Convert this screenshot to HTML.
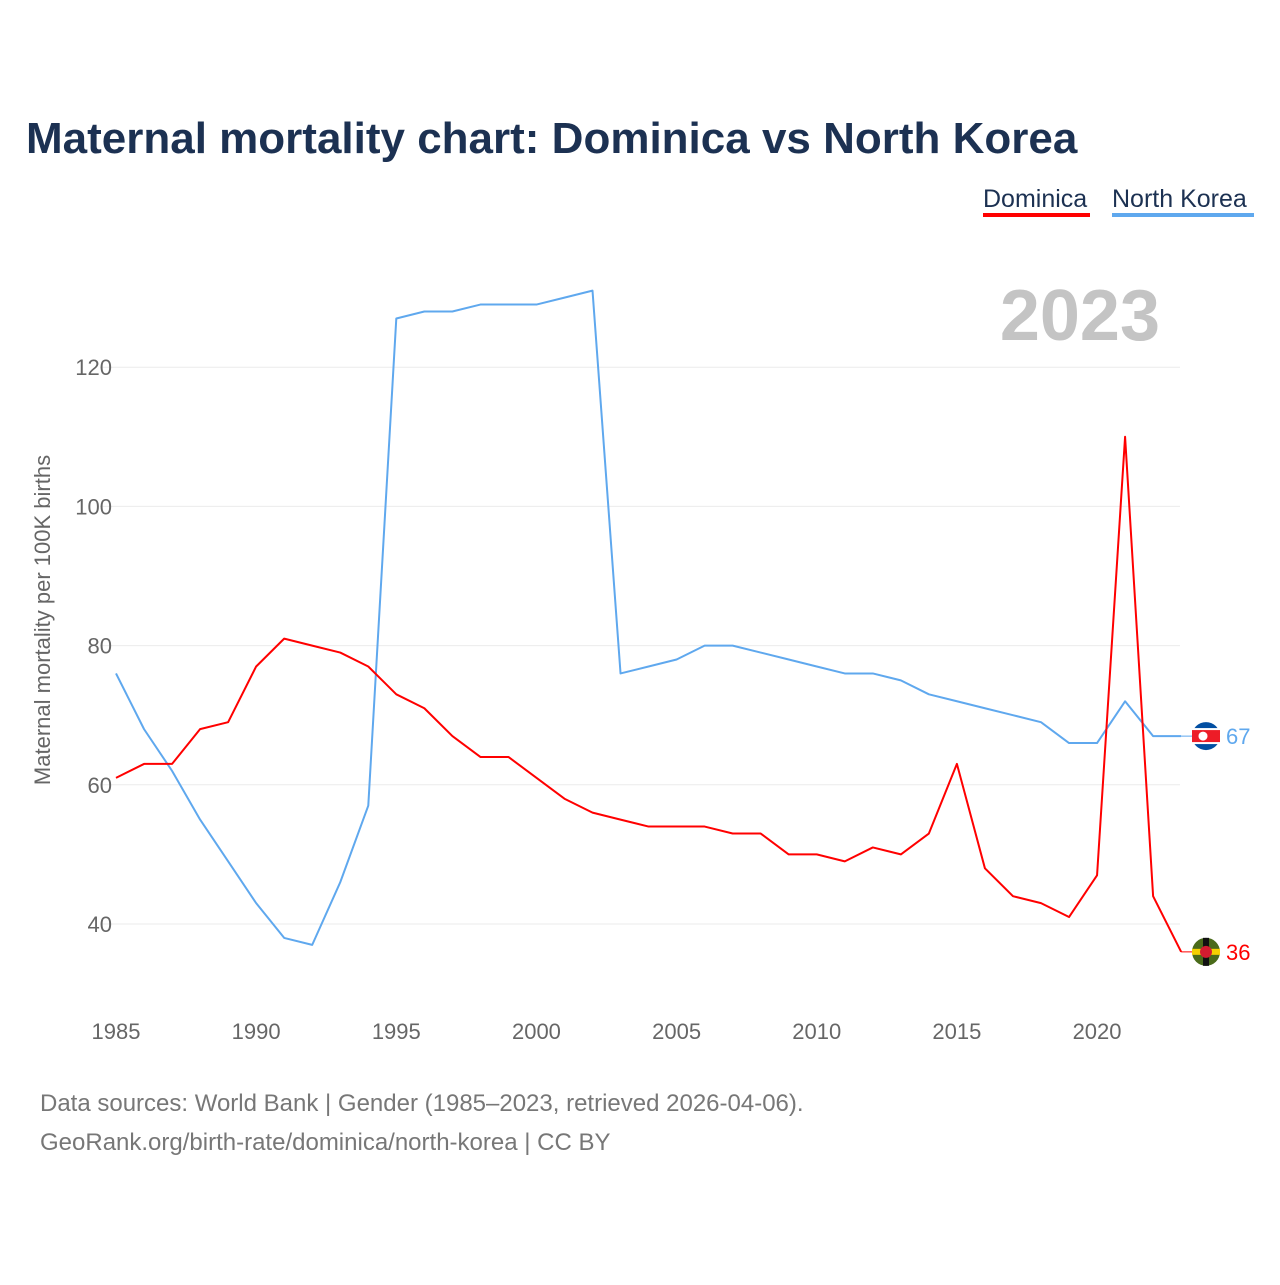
<!DOCTYPE html>
<html><head><meta charset="utf-8">
<style>
body{margin:0;background:#fff;font-family:"Liberation Sans",sans-serif;}
svg text{font-family:"Liberation Sans",sans-serif;}
</style></head>
<body>
<svg id="chart" width="1280" height="1280" viewBox="0 0 1280 1280">
<text x="26" y="153" font-size="44" font-weight="bold" fill="#1c3152">Maternal mortality chart: Dominica vs North Korea</text>
<g>
<text x="983" y="207" font-size="25" fill="#1c3152">Dominica</text>
<rect x="983" y="213" width="107" height="4" fill="#ff0000"/>
</g>
<g>
<text x="1112" y="207" font-size="25" fill="#1c3152">North Korea</text>
<rect x="1112" y="213" width="142" height="4" fill="#5fa8ee"/>
</g>
<text x="1160" y="340" font-size="72" font-weight="bold" fill="#c4c4c4" text-anchor="end">2023</text>
<text transform="translate(50,620) rotate(-90)" font-size="22" fill="#666" text-anchor="middle">Maternal mortality per 100K births</text>
<g id="grid"></g><g id="xt"></g><g id="series"></g>
<text x="40" y="1111" font-size="24" fill="#777">Data sources: World Bank | Gender (1985–2023, retrieved 2026-04-06).</text>
<text x="40" y="1150" font-size="24" fill="#777">GeoRank.org/birth-rate/dominica/north-korea | CC BY</text>
</svg>
<script>
const years=[];for(let y=1985;y<=2023;y++)years.push(y);
const dominica=[61,63,63,68,69,77,81,80,79,77,73,71,67,64,64,61,58,56,55,54,54,54,53,53,50,50,49,51,50,53,63,48,44,43,41,47,110,44,36];
const northKorea=[76,68,62,55,49,43,38,37,46,57,127,128,128,129,129,129,130,131,76,77,78,80,80,79,78,77,76,76,75,73,72,71,70,69,66,66,72,67,67];
const yTicks=[40,60,80,100,120];
const xTicks=[1985,1990,1995,2000,2005,2010,2015,2020];
const X=y=>116+(y-1985)*28.03;
const Y=v=>924-(v-40)*6.96;
const NS="http://www.w3.org/2000/svg";
function mk(t,a,p){const e=document.createElementNS(NS,t);for(const k in a)e.setAttribute(k,a[k]);p.appendChild(e);return e;}
const grid=document.getElementById('grid');
yTicks.forEach(v=>{
 const l=mk('line',{x1:100,x2:1180,y1:Y(v),y2:Y(v),stroke:'#ebebeb','stroke-width':1},grid);
 
 
 const t=mk('text',{x:112,y:Y(v)+8,'font-size':22,fill:'#666','text-anchor':'end'},grid);t.textContent=v;
 
 
});
const xt=document.getElementById('xt');
xTicks.forEach(v=>{
 const t=mk('text',{x:X(v),y:1039,'font-size':22,fill:'#666','text-anchor':'middle'},xt);t.textContent=v;
 
 
});
const s=document.getElementById('series');
function line(data,color,name,flag){
 const pts=data.map((v,i)=>X(years[i])+','+Y(v)).join(' ');
 const p=mk('polyline',{points:pts,fill:'none',stroke:color,'stroke-width':2,'stroke-linejoin':'round'},s);
 
 
 const last=data[data.length-1],ly=Y(last);
 mk('line',{x1:X(2023),x2:1206,y1:ly,y2:ly,stroke:color,'stroke-width':1},s);
 const g=mk('g',{},s);
 
 
 flag(g,1206,ly);
 const t=mk('text',{x:1226,y:ly+8,'font-size':22,fill:color},s);t.textContent=last;
 
 
}
line(northKorea,'#5fa8ee','north-korea',(g,x,y)=>{
 mk('circle',{cx:x,cy:y,r:14,fill:'#024fa2'},g);
 mk('rect',{x:x-14,y:y-8,width:28,height:16,fill:'#fff'},g);
 mk('rect',{x:x-14,y:y-6,width:28,height:12,fill:'#ed1c27'},g);
 mk('circle',{cx:x-3,cy:y,r:4.5,fill:'#fff'},g);
});
line(dominica,'#ff0000','dominica',(g,x,y)=>{
 mk('circle',{cx:x,cy:y,r:14,fill:'#4a6b1a'},g);
 mk('rect',{x:x-14,y:y-3,width:28,height:6,fill:'#f5d000'},g);
 mk('rect',{x:x-3,y:y-14,width:6,height:28,fill:'#111'},g);
 mk('circle',{cx:x,cy:y,r:6,fill:'#d41c30'},g);
});
</script>
</body></html>
